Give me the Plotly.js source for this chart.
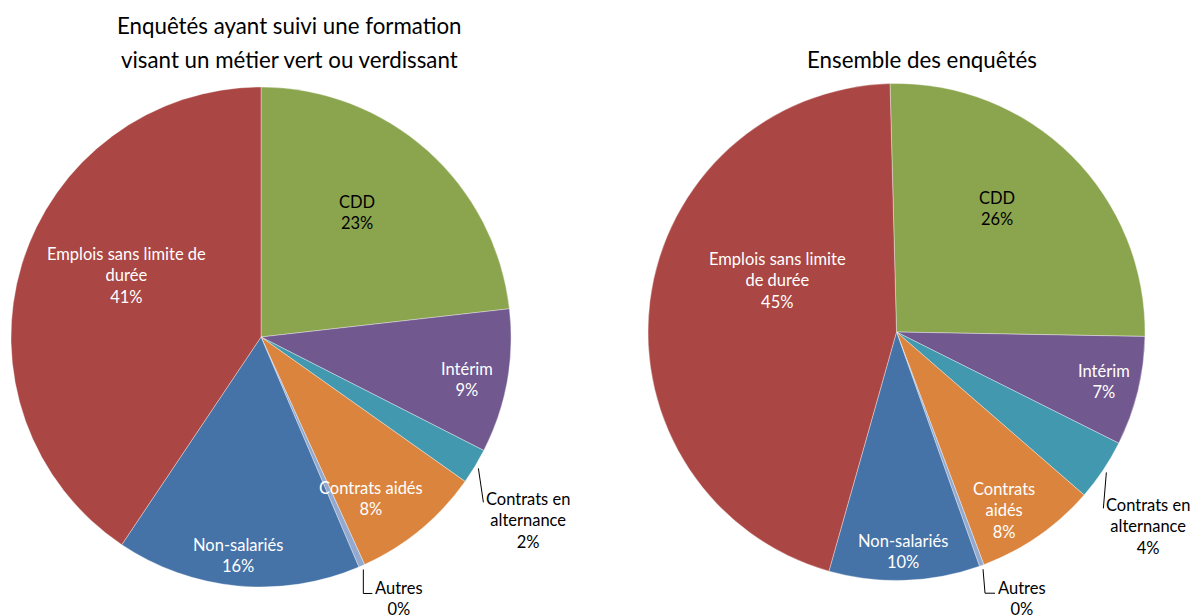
<!DOCTYPE html>
<html>
<head>
<meta charset="utf-8">
<script src="https://cdn.plot.ly/plotly-3.0.1.min.js"></script>
<style>
  html, body { margin: 0; padding: 0; background: #fff; }
  #chart { width: 1190px; height: 615px; }
</style>
</head>
<body>
<div id="chart"></div>
<script>
// Slice order, clockwise from 12 o'clock
const categories = ['CDD', 'Intérim', 'Contrats en alternance', 'Contrats aidés', 'Autres', 'Non-salariés', 'Emplois sans limite de durée'];

// Shares (%)
const valuesVert = [23.2, 9.3, 2.3, 8.4, 0.4, 15.8, 40.6];
const valuesAll = [25.7, 7.1, 4.0, 7.9, 0.3, 9.8, 45.2];

// Label text as it wraps in each pie
const namesVert = ['CDD', 'Intérim', 'Contrats en<br>alternance', 'Contrats aidés', 'Autres', 'Non-salariés', 'Emplois sans limite de<br>durée'];
const namesAll = ['CDD', 'Intérim', 'Contrats en<br>alternance', 'Contrats<br>aidés', 'Autres', 'Non-salariés', 'Emplois sans limite<br>de durée'];

const titleVert = ['Enquêtés ayant suivi une formation', 'visant un métier vert ou verdissant'];
const titleAll = 'Ensemble des enquêtés';

const sliceColors = ['#8BA54F', '#71588F', '#4198AF', '#DB843D', '#93A9CF', '#4572A7', '#AA4643'];
const textColors = ['#000', '#fff', '#000', '#fff', '#000', '#fff', '#fff'];
const FONT = 'Lato, "Open Sans", sans-serif';
const LABEL_SIZE = 16.5;
const W = 1190, H = 615;

// the two small slices get an outside label with a leader line
const outsideIdx = [2, 4];

// pie geometry in pixels; inside labels placed at [angle from 12 o'clock, share of radius]
const pies = [
    { cx: 261, cy: 337, r: 250, rot: 0, values: valuesVert, names: namesVert,
      spots: [[37.5, 0.63], [101.6, 0.84], null, [145.8, 0.78], null, [186, 0.88], [294.5, 0.59]],
      leaders: { 2: { dx: 5, dy: 34, tick: 0, up: 15 }, 4: { dx: 0, dy: 24, tick: 9, up: 17 } } },
    { cx: 896.5, cy: 332, r: 248.5, rot: -1.5, values: valuesAll, names: namesAll,
      spots: [[39, 0.64], [103.5, 0.86], null, [148.9, 0.84], null, [178.3, 0.885], [293.5, 0.52]],
      leaders: { 2: { dx: -3, dy: 36, tick: 0, up: 15 }, 4: { dx: 2, dy: 24, tick: 10, up: 17 } } }
];

const px = x => x / W;
const py = y => 1 - y / H;
const sum = arr => arr.reduce((a, b) => a + b, 0);
const pct = (values, i) => Math.round(values[i] / sum(values) * 100) + '%';

function midAngle(values, i, rot) {
    const before = sum(values.slice(0, i));
    return (before + values[i] / 2) / sum(values) * 360 + rot;
}

const traces = [];
const shapes = [];
const annotations = [];

pies.forEach(p => {
    traces.push({
        type: 'pie',
        labels: categories,
        values: p.values,
        sort: false,
        direction: 'clockwise',
        rotation: p.rot,
        domain: { x: [px(p.cx - p.r), px(p.cx + p.r)], y: [py(p.cy + p.r), py(p.cy - p.r)] },
        marker: { colors: sliceColors, line: { color: 'rgba(255,255,255,0.6)', width: 0.6 } },
        textinfo: 'none',
        showlegend: false,
        hoverinfo: 'label+percent'
    });

    // labels inside the slices
    p.spots.forEach((s, i) => {
        if (!s) return;
        const a = s[0] * Math.PI / 180;
        annotations.push({
            xref: 'paper', yref: 'paper',
            x: px(p.cx + s[1] * p.r * Math.sin(a)), y: py(p.cy - s[1] * p.r * Math.cos(a)),
            xanchor: 'center', yanchor: 'middle', align: 'center', showarrow: false,
            text: p.names[i] + '<br>' + pct(p.values, i),
            font: { family: FONT, size: LABEL_SIZE, color: textColors[i] }
        });
    });

    // leader lines and outside labels for the thin slices
    outsideIdx.forEach(i => {
        const a = midAngle(p.values, i, p.rot) * Math.PI / 180;
        const sx = p.cx + (p.r + 4) * Math.sin(a);
        const sy = p.cy - (p.r + 4) * Math.cos(a);
        const L = p.leaders[i];
        const ex = sx + L.dx, ey = sy + L.dy;
        const tx = ex + L.tick;
        shapes.push({
            type: 'path', xref: 'paper', yref: 'paper',
            path: `M ${px(sx)},${py(sy)} L ${px(ex)},${py(ey)} L ${px(tx)},${py(ey)}`,
            line: { color: '#000', width: 1 }
        });
        annotations.push({
            xref: 'paper', yref: 'paper', x: px(tx + 1), y: py(ey - L.up),
            xanchor: 'left', yanchor: 'top', align: 'center', showarrow: false,
            text: p.names[i] + '<br>' + pct(p.values, i),
            font: { family: FONT, size: LABEL_SIZE, color: '#000' }
        });
    });
});

// chart titles
const titleFont = { family: FONT, size: 22.3, color: '#000' };
annotations.push(
    { xref: 'paper', yref: 'paper', x: px(289), y: py(25), xanchor: 'center', yanchor: 'middle', showarrow: false,
      text: titleVert[0], font: titleFont },
    { xref: 'paper', yref: 'paper', x: px(289), y: py(59), xanchor: 'center', yanchor: 'middle', showarrow: false,
      text: titleVert[1], font: titleFont },
    { xref: 'paper', yref: 'paper', x: px(922), y: py(59), xanchor: 'center', yanchor: 'middle', showarrow: false,
      text: titleAll, font: titleFont }
);

const layout = {
    width: W,
    height: H,
    margin: { l: 0, r: 0, t: 0, b: 0 },
    paper_bgcolor: '#fff',
    font: { family: FONT, color: '#000' },
    shapes: shapes,
    annotations: annotations
};

Plotly.newPlot('chart', traces, layout, { displayModeBar: false, staticPlot: true });
</script>
</body>
</html>
